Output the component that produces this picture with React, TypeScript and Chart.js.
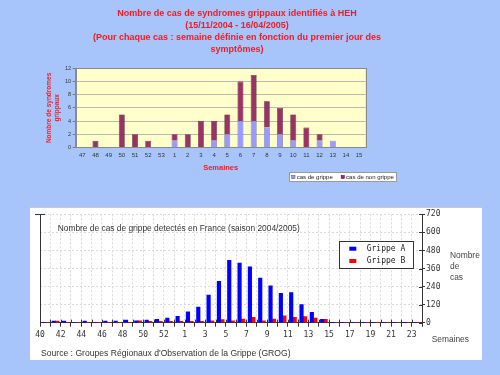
import React, { useEffect, useRef } from 'react';
import { Chart, registerables } from 'chart.js';

Chart.register(...registerables);

const SANS = "'Liberation Sans', Arial, sans-serif";
const MONO = "'DejaVu Sans Mono', monospace";
const RED_TXT = '#ee1c25';

// ---------- Top chart data (HEH) ----------
const hehWeeks = ['47', '48', '49', '50', '51', '52', '53', '1', '2', '3', '4', '5', '6', '7', '8', '9', '10', '11', '12', '13', '14', '15'];
const hehGrippe = [0, 0, 0, 0, 0, 0, 0, 1, 0, 0, 1, 2, 4, 4, 3, 2, 1, 0, 1, 1, 0, 0];
const hehNonGrippe = [0, 1, 0, 5, 2, 1, 0, 1, 2, 4, 3, 3, 6, 7, 4, 4, 4, 3, 1, 0, 0, 0];
const hehSeries = ['cas de grippe', 'cas de non grippe'];
const hehTitle = [
  'Nombre de cas de syndromes grippaux identifiés à HEH',
  '(15/11/2004 - 16/04/2005)',
  '(Pour chaque cas : semaine définie en fonction du premier jour des',
  'symptômes)',
];
const hehYTitle = ['Nombre de syndromes', 'grippaux'];
const hehXTitle = 'Semaines';

// ---------- Bottom chart data (GROG) ----------
const grogWeeks = ['40', '41', '42', '43', '44', '45', '46', '47', '48', '49', '50', '51', '52', '53',
  '1', '2', '3', '4', '5', '6', '7', '8', '9', '10', '11', '12', '13', '14', '15', '16', '17', '18', '19', '20', '21', '22', '23'];
const grippeA = [0, 10, 10, 0, 10, 0, 10, 10, 18, 12, 18, 22, 31, 42,
  72, 104, 183, 275, 414, 396, 371, 296, 245, 195, 200, 121, 69, 22, 0, 0, 0, 0, 0, 0, 0, 0, 0];
const grippeB = [0, 10, 0, 0, 0, 0, 0, 0, 0, 12, 9, 9, 9, 9,
  9, 9, 13, 20, 13, 24, 35, 13, 24, 46, 35, 40, 31, 22, 0, 0, 0, 0, 0, 0, 0, 0, 0];
const grogSeries = ['Grippe A', 'Grippe B'];
const grogYMax = 720;
const grogYStep = 120;
const grogTitle = 'Nombre de cas de grippe detectés en France (saison 2004/2005)';
const grogYTitle = ['Nombre', 'de', 'cas'];
const grogXTitle = 'Semaines';
const grogSource = "Source : Groupes Régionaux d'Observation de la Grippe (GROG)";

// ---------- Plugins ----------
const plotFrame = {
  id: 'plotFrame',
  beforeDraw(chart: any, _a: any, o: any) {
    if (!o || !o.background) return;
    const { ctx, chartArea: a } = chart;
    ctx.save();
    ctx.fillStyle = o.background;
    ctx.fillRect(a.left, a.top, a.right - a.left, a.bottom - a.top);
    ctx.restore();
  },
  afterDraw(chart: any, _a: any, o: any) {
    if (!o || !o.border) return;
    const { ctx, chartArea: a } = chart;
    ctx.save();
    ctx.strokeStyle = o.border;
    ctx.lineWidth = 1;
    ctx.strokeRect(Math.round(a.left) + 0.5, Math.round(a.top) + 0.5, Math.round(a.right - a.left), Math.round(a.bottom - a.top));
    ctx.restore();
  },
};

const boxLegend = {
  id: 'boxLegend',
  afterDraw(chart: any, _a: any, o: any) {
    if (!o || !o.box) return;
    const ctx = chart.ctx;
    const [bx, by, bw, bh] = o.box;
    ctx.save();
    ctx.fillStyle = o.background;
    ctx.fillRect(bx, by, bw, bh);
    ctx.strokeStyle = o.borderColor;
    ctx.lineWidth = 1;
    ctx.strokeRect(Math.round(bx) + 0.5, Math.round(by) + 0.5, Math.round(bw), Math.round(bh));
    ctx.font = o.font;
    ctx.textBaseline = 'middle';
    ctx.textAlign = 'left';
    let x = bx + o.padX;
    chart.data.datasets.forEach((ds: any, i: number) => {
      const cy = o.vertical ? by + o.padY + i * o.rowHeight : by + o.padY;
      const sx = o.vertical ? bx + o.padX : x;
      ctx.fillStyle = ds.backgroundColor;
      ctx.fillRect(sx, cy - o.swatchH / 2, o.swatchW, o.swatchH);
      if (o.swatchBorder) {
        ctx.strokeStyle = ds.borderColor;
        ctx.lineWidth = 0.5;
        ctx.strokeRect(sx, cy - o.swatchH / 2, o.swatchW, o.swatchH);
      }
      ctx.fillStyle = o.color;
      const tx = sx + o.swatchW + o.gap;
      ctx.fillText(ds.label, tx, cy);
      x = tx + ctx.measureText(ds.label).width + o.spacing;
    });
    ctx.restore();
  },
};

const freeTexts = {
  id: 'freeTexts',
  afterDraw(chart: any, _a: any, o: any) {
    if (!o || !o.items) return;
    const ctx = chart.ctx;
    ctx.save();
    ctx.textBaseline = 'middle';
    o.items.forEach((it: any) => {
      ctx.font = it.font;
      ctx.fillStyle = it.color;
      ctx.textAlign = it.align || 'left';
      ctx.fillText(it.text, it.x, it.y);
    });
    ctx.restore();
  },
};

const crossTicks = {
  id: 'crossTicks',
  afterDraw(chart: any, _a: any, o: any) {
    if (!o || !o.color) return;
    const { ctx } = chart;
    const xs = chart.scales.x;
    const ys = chart.scales.y;
    const yl = chart.scales.yLeft;
    ctx.save();
    ctx.strokeStyle = o.color;
    ctx.lineWidth = 1;
    ctx.beginPath();
    xs.ticks.forEach((t: any) => {
      const px = Math.round(xs.getPixelForValue(t.value)) + 0.5;
      ctx.moveTo(px, xs.top - o.len);
      ctx.lineTo(px, xs.top);
    });
    ys.ticks.forEach((t: any) => {
      const py = Math.round(ys.getPixelForValue(t.value)) + 0.5;
      ctx.moveTo(ys.left - o.len, py);
      ctx.lineTo(ys.left, py);
    });
    if (yl) {
      const ty = Math.round(yl.getPixelForValue(yl.max)) + 0.5;
      ctx.moveTo(yl.right - o.cap, ty);
      ctx.lineTo(yl.right + o.cap, ty);
    }
    ctx.stroke();
    ctx.restore();
  },
};

// ---------- Top chart ----------
function HehChart() {
  const ref = useRef<HTMLCanvasElement>(null);
  useEffect(() => {
    const chart = new Chart(ref.current as HTMLCanvasElement, {
      type: 'bar',
      data: {
        labels: hehWeeks,
        datasets: [
          { label: hehSeries[0], data: hehGrippe, backgroundColor: '#9999ff', borderColor: '#50509a', borderWidth: 0.6 },
          { label: hehSeries[1], data: hehNonGrippe, backgroundColor: '#993366', borderColor: '#4a1530', borderWidth: 0.6 },
        ],
      },
      plugins: [plotFrame, boxLegend],
      options: {
        animation: false,
        responsive: false,
        maintainAspectRatio: false,
        layout: { padding: { top: 8.15, left: 0, right: 0, bottom: 0 } },
        datasets: { bar: { categoryPercentage: 1, barPercentage: 0.45 } },
        plugins: {
          legend: { display: false },
          tooltip: { enabled: false },
          title: {
            display: true,
            text: hehTitle,
            color: RED_TXT,
            font: { family: SANS, size: 9, weight: 'bold', lineHeight: '11.7px' },
            padding: { top: 0, bottom: 13.5 },
          },
          plotFrame: { background: '#ffffcc', border: '#8a8a8a' },
          boxLegend: {
            box: [289.3, 172.3, 107.4, 9.4],
            background: '#ffffff',
            borderColor: '#9a9a9a',
            font: `6px ${SANS}`,
            color: '#222222',
            padX: 2.4,
            padY: 4.7,
            swatchW: 3.3,
            swatchH: 3.3,
            swatchBorder: true,
            gap: 1.7,
            spacing: 8.4,
            vertical: false,
          },
        } as any,
        scales: {
          x: {
            stacked: true,
            grid: { display: false, drawTicks: false, tickLength: 0 },
            border: { color: '#8a8a8a' },
            ticks: { color: '#333333', font: { family: SANS, size: 6 }, padding: 4.8, autoSkip: false, maxRotation: 0 },
            title: {
              display: true,
              text: hehXTitle,
              color: RED_TXT,
              font: { family: SANS, size: 7.5, weight: 'bold', lineHeight: '9px' },
              padding: { top: 0, bottom: 22.8 },
            },
            afterFit: (s: any) => { s.height = 47.7; },
          },
          y: {
            stacked: true,
            min: 0,
            max: 12,
            ticks: { stepSize: 1, color: '#333333', font: { family: SANS, size: 5.5 }, padding: 1.7 },
            grid: { color: '#a8a8a8', lineWidth: 0.8, tickLength: 3, tickColor: '#666666' },
            border: { color: '#8a8a8a' },
            title: {
              display: true,
              text: hehYTitle,
              color: RED_TXT,
              font: { family: SANS, size: 6.5, weight: 'bold', lineHeight: '8.2px' },
              padding: { top: 45, bottom: 0 },
            },
            afterFit: (s: any) => { s.width = 75.7; },
          },
          yPad: {
            position: 'right',
            display: true,
            ticks: { display: false },
            grid: { display: false, drawTicks: false },
            border: { display: false },
            afterFit: (s: any) => { s.width = 108.3; },
          },
        } as any,
      },
    } as any);
    return () => chart.destroy();
  }, []);
  return (
    <canvas
      ref={ref}
      width={474}
      height={195}
      style={{ position: 'absolute', left: 0, top: 0, width: 474, height: 195, display: 'block' }}
    />
  );
}

// ---------- Bottom chart ----------
function GrogChart() {
  const ref = useRef<HTMLCanvasElement>(null);
  useEffect(() => {
    const toPoints = (vals: number[]) => vals.map((v, i) => ({ x: i + 0.5, y: v }));
    const chart = new Chart(ref.current as HTMLCanvasElement, {
      type: 'bar',
      data: {
        datasets: [
          { label: grogSeries[0], data: toPoints(grippeA), backgroundColor: '#0000ff', borderWidth: 0, barThickness: 3.5 },
          { label: grogSeries[1], data: toPoints(grippeB), backgroundColor: '#ff0000', borderWidth: 0, barThickness: 3.5 },
        ],
      },
      plugins: [crossTicks, boxLegend, freeTexts],
      options: {
        animation: false,
        responsive: false,
        maintainAspectRatio: false,
        layout: { padding: { top: 6.3, left: 0, right: 0, bottom: 0 } },
        plugins: {
          legend: { display: false },
          tooltip: { enabled: false },
          crossTicks: { color: '#333333', len: 3, cap: 5 },
          boxLegend: {
            box: [309.3, 33, 74, 27.3],
            background: '#ffffff',
            borderColor: '#333333',
            font: `8px ${MONO}`,
            color: '#222222',
            padX: 10,
            padY: 7.7,
            rowHeight: 12.3,
            swatchW: 7,
            swatchH: 4,
            gap: 10.4,
            spacing: 0,
            vertical: true,
          },
          freeTexts: {
            items: [
              { text: grogTitle, x: 27.7, y: 21, font: `8.4px ${SANS}`, color: '#333333' },
              ...grogYTitle.map((t, i) => ({ text: t, x: 420, y: 47.7 + i * 11, font: `8.4px ${SANS}`, color: '#444444' })),
              { text: grogXTitle, x: 401.7, y: 132, font: `8.4px ${SANS}`, color: '#444444' },
              { text: grogSource, x: 11, y: 146, font: `8.6px ${SANS}`, color: '#333333' },
            ],
          },
        } as any,
        scales: {
          x: {
            type: 'linear',
            min: 0,
            max: grogWeeks.length,
            offset: false,
            grid: { color: '#dadada', offset: false, tickColor: '#333333', tickLength: 4, lineWidth: 1 },
            border: { color: '#333333', dash: [2, 2] },
            ticks: {
              stepSize: 1,
              autoSkip: false,
              maxRotation: 0,
              padding: 3,
              color: '#333333',
              font: { family: MONO, size: 8 },
              callback: (v: any) => (Number(v) % 2 === 0 && Number(v) < grogWeeks.length ? grogWeeks[Number(v)] : ''),
            },
            afterFit: (s: any) => { s.height = 37.3; },
          },
          y: {
            position: 'right',
            min: 0,
            max: grogYMax,
            ticks: { stepSize: grogYStep, color: '#333333', font: { family: MONO, size: 8 }, padding: 1 },
            grid: { color: '#dadada', tickColor: '#333333', tickLength: 3, lineWidth: 1 },
            border: { color: '#333333', dash: [2, 2] },
            afterFit: (s: any) => { s.width = 60; },
          },
          yLeft: {
            position: 'left',
            min: 0,
            max: grogYMax,
            ticks: { display: false },
            grid: { drawOnChartArea: false, drawTicks: false },
            border: { color: '#333333' },
            afterFit: (s: any) => { s.width = 10; },
          },
        } as any,
      },
    } as any);
    return () => chart.destroy();
  }, []);
  return (
    <div
      style={{
        position: 'absolute',
        left: 30,
        top: 208,
        width: 452,
        height: 152,
        background: '#ffffff',
        boxShadow: '0 -1px 0 #c9c9c9',
      }}
    >
      <canvas ref={ref} width={452} height={152} style={{ display: 'block', width: 452, height: 152 }} />
    </div>
  );
}

export default function App() {
  return (
    <div
      style={{
        position: 'fixed',
        left: 0,
        top: 0,
        width: 500,
        height: 375,
        background: '#a8c5fb',
        overflow: 'hidden',
      }}
    >
      <HehChart />
      <GrogChart />
    </div>
  );
}
